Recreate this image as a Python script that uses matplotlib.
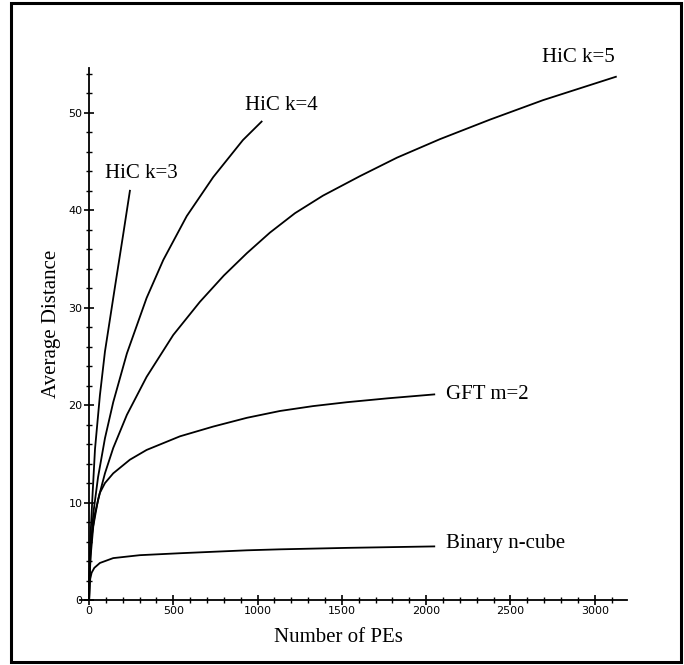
import matplotlib
matplotlib.use("Agg")
import matplotlib.pyplot as plt
from matplotlib.patches import Rectangle

# ---- data ----
hic3_n = [1, 4, 9, 22, 36, 65, 95, 154, 203, 243]
hic3_d = [0.0, 3.0, 6.5, 11.0, 15.5, 21.0, 25.5, 32.1, 37.5, 42.0]

hic4_n = [1, 4, 10, 26, 54, 95, 144, 225, 342, 441, 580, 737, 913, 1024]
hic4_d = [0.0, 2.5, 5.0, 8.9, 12.6, 16.6, 20.3, 25.3, 31.0, 34.9, 39.4, 43.4, 47.2, 49.1]

hic5_n = [1, 4, 10, 26, 54, 95, 144, 225, 342, 500, 658, 800, 937, 1073, 1222,
          1388, 1607, 1827, 2082, 2378, 2693, 3125]
hic5_d = [0.0, 2.3, 4.5, 7.6, 10.3, 13.0, 15.6, 19.0, 22.9, 27.2, 30.6, 33.3, 35.6,
          37.7, 39.7, 41.5, 43.5, 45.4, 47.3, 49.3, 51.3, 53.7]

gft_n = [1, 4, 8, 16, 36, 65, 95, 144, 243, 342, 540, 737, 937, 1133, 1329, 1530, 1773, 2048]
gft_d = [0.0, 3.0, 4.8, 6.5, 8.9, 11.0, 12.0, 13.0, 14.4, 15.4, 16.8, 17.8, 18.7,
         19.4, 19.9, 20.3, 20.7, 21.1]

cube_n = [1, 2, 4, 8, 16, 32, 65, 144, 302, 540, 737, 937, 1133, 1530, 2048]
cube_d = [0.0, 0.9, 1.6, 2.2, 2.8, 3.3, 3.8, 4.3, 4.6, 4.8, 4.95, 5.1, 5.2, 5.35, 5.5]

x_ticks = [0, 500, 1000, 1500, 2000, 2500, 3000]
y_ticks = [0, 10, 20, 30, 40, 50]

serif = "Liberation Serif"

fig = plt.figure(figsize=(6.84, 6.65), dpi=100)
ax = fig.add_axes([80 / 684, 65 / 665, 547 / 684, 532 / 665])

for n, d in [(hic3_n, hic3_d), (hic4_n, hic4_d), (hic5_n, hic5_d),
             (gft_n, gft_d), (cube_n, cube_d)]:
    ax.plot(n, d, color="black", lw=1.3, solid_joinstyle="round")

ax.set_xlim(-53, 3191)
ax.set_ylim(0, 54.6)

for s in ["top", "right"]:
    ax.spines[s].set_visible(False)
ax.spines["left"].set_position(("data", 0))
ax.spines["left"].set_linewidth(1.3)
ax.spines["bottom"].set_linewidth(1.3)

ax.set_xticks(x_ticks)
ax.set_xticklabels([str(v) for v in x_ticks])
ax.set_xticks(range(100, 3200, 100), minor=True)
ax.set_yticks(y_ticks)
ax.set_yticklabels([str(v) for v in y_ticks])
ax.set_yticks(range(2, 55, 2), minor=True)

ax.tick_params(axis="both", which="major", direction="inout", length=7, width=1.2,
               labelsize=8, pad=1)
ax.tick_params(axis="both", which="minor", direction="inout", length=4, width=1.0)
for lab in ax.get_xticklabels() + ax.get_yticklabels():
    lab.set_family("DejaVu Sans")

ax.set_xlabel("Number of PEs", family=serif, fontsize=15)
ax.set_ylabel("Average Distance", family=serif, fontsize=15)
ax.xaxis.set_label_coords((338 - 80) / 547, -(628 - 600) / 532)
ax.yaxis.set_label_coords(-(80 - 61) / 547, (600 - 324) / 532)

ax.text(98, 43.8, "HiC k=3", family=serif, fontsize=15, ha="left", va="center")
ax.text(925, 50.8, "HiC k=4", family=serif, fontsize=15, ha="left", va="center")
ax.text(2685, 55.7, "HiC k=5", family=serif, fontsize=15, ha="left", va="center", clip_on=False)
ax.text(2120, 21.1, "GFT m=2", family=serif, fontsize=15, ha="left", va="center")
ax.text(2120, 5.8, "Binary n-cube", family=serif, fontsize=15, ha="left", va="center")

# outer frame
fig.patches.append(Rectangle((11 / 684, 3 / 665), 670 / 684, 659 / 665,
                             transform=fig.transFigure, fill=False,
                             edgecolor="black", lw=2.2))

fig.savefig("out.png", dpi=100)
